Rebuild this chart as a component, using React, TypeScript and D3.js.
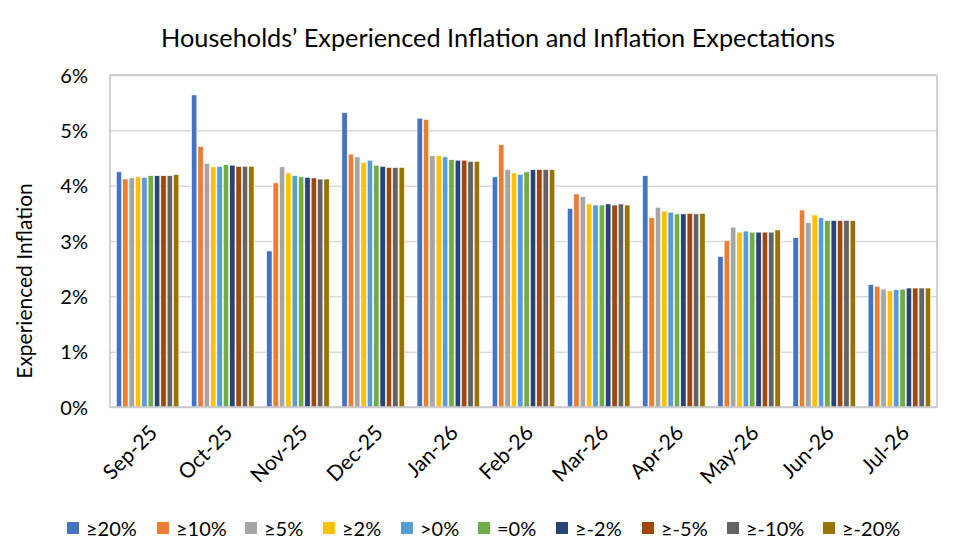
import { useRef, useEffect } from "react";
import * as d3 from "d3";

const months: string[] = ["Sep-25", "Oct-25", "Nov-25", "Dec-25", "Jan-26", "Feb-26", "Mar-26", "Apr-26", "May-26", "Jun-26", "Jul-26"];
const seriesNames: string[] = ["≥20%", "≥10%", "≥5%", "≥2%", ">0%", "=0%", "≥-2%", "≥-5%", "≥-10%", "≥-20%"];
const seriesColors: string[] = ["#4472C4", "#ED7D31", "#A5A5A5", "#FFC000", "#5B9BD5", "#70AD47", "#264478", "#9E480E", "#636363", "#997300"];

// one row per month, one value (%) per series
const sep25: number[] = [4.25, 4.12, 4.14, 4.16, 4.15, 4.18, 4.18, 4.18, 4.18, 4.20];
const oct25: number[] = [5.64, 4.71, 4.40, 4.34, 4.35, 4.38, 4.37, 4.35, 4.35, 4.35];
const nov25: number[] = [2.82, 4.05, 4.34, 4.23, 4.18, 4.16, 4.15, 4.14, 4.12, 4.12];
const dec25: number[] = [5.32, 4.57, 4.52, 4.42, 4.46, 4.37, 4.35, 4.33, 4.33, 4.33];
const jan26: number[] = [5.22, 5.20, 4.54, 4.54, 4.52, 4.47, 4.46, 4.46, 4.44, 4.44];
const feb26: number[] = [4.16, 4.74, 4.29, 4.23, 4.20, 4.25, 4.29, 4.29, 4.29, 4.29];
const mar26: number[] = [3.59, 3.85, 3.80, 3.67, 3.65, 3.65, 3.67, 3.65, 3.67, 3.65];
const apr26: number[] = [4.18, 3.42, 3.61, 3.54, 3.52, 3.49, 3.49, 3.50, 3.49, 3.50];
const may26: number[] = [2.72, 3.01, 3.25, 3.16, 3.18, 3.16, 3.16, 3.16, 3.16, 3.20];
const jun26: number[] = [3.06, 3.56, 3.33, 3.47, 3.42, 3.37, 3.37, 3.37, 3.37, 3.37];
const jul26: number[] = [2.21, 2.18, 2.13, 2.10, 2.12, 2.13, 2.15, 2.15, 2.15, 2.15];

const values: number[][] = [sep25, oct25, nov25, dec25, jan26, feb26, mar26, apr26, may26, jun26, jul26];
const yTicks: number[] = [0, 1, 2, 3, 4, 5, 6];

const width = 959;
const height = 559;
const font = "Lato, 'Open Sans', sans-serif";

export default function App() {
    const svgRef = useRef<SVGSVGElement | null>(null);

    useEffect(() => {
        if (!svgRef.current) return;
        const margin = { top: 75, right: 22, bottom: 152, left: 110 };
        const plotW = width - margin.left - margin.right;
        const plotH = height - margin.top - margin.bottom;

        const svg = d3.select(svgRef.current);
        svg.selectAll("*").remove();

        const x0 = d3.scaleBand<string>().domain(months).range([0, plotW]).paddingInner(0.155).paddingOuter(0.0775);
        const x1 = d3.scaleBand<string>().domain(seriesNames).range([0, x0.bandwidth()]);
        const y = d3.scaleLinear().domain([0, 6]).range([plotH, 0]);

        // title
        svg.append("text")
            .attr("x", 498)
            .attr("y", 47)
            .attr("text-anchor", "middle")
            .style("font-family", font)
            .style("font-size", "25.3px")
            .style("fill", "#000")
            .text("Households’ Experienced Inflation and Inflation Expectations");

        const g = svg.append("g").attr("transform", `translate(${margin.left},${margin.top})`);

        // gridlines
        const yAxis = d3.axisLeft(y).tickValues(yTicks).tickSize(-plotW).tickFormat((d: any) => `${d}%`);
        const ya = g.append("g").attr("class", "y-axis").call(yAxis);
        ya.select(".domain").remove();
        ya.selectAll(".tick line").attr("stroke", "#d9d9d9").attr("stroke-width", 1.5);
        ya.selectAll(".tick text")
            .attr("x", -22)
            .attr("dy", "0.36em")
            .style("font-family", font)
            .style("font-size", "20px")
            .style("fill", "#000");

        // bars
        g.append("g")
            .selectAll("g")
            .data(values)
            .join("g")
            .attr("transform", (_d, i) => `translate(${x0(months[i])},0)`)
            .selectAll("rect")
            .data((d) => d)
            .join("rect")
            .attr("x", (_d, j) => (x1(seriesNames[j]) as number) + 0.5)
            .attr("width", x1.bandwidth() - 1)
            .attr("y", (d) => y(d))
            .attr("height", (d) => plotH - y(d))
            .attr("fill", (_d, j) => seriesColors[j])
            .attr("stroke", "#fff")
            .attr("stroke-width", 0.6);

        // plot border
        g.append("rect")
            .attr("width", plotW)
            .attr("height", plotH)
            .attr("fill", "none")
            .attr("stroke", "#c4c4c4")
            .attr("stroke-width", 1.5);

        // x labels
        const xAxis = d3.axisBottom(x0).tickSize(0);
        const xa = g.append("g").attr("transform", `translate(0,${plotH})`).call(xAxis);
        xa.select(".domain").remove();
        xa.selectAll(".tick text")
            .attr("text-anchor", "end")
            .attr("dy", "0")
            .attr("transform", "translate(9,25) rotate(-45)")
            .style("font-family", font)
            .style("font-size", "21px")
            .style("fill", "#000");

        // y title
        svg.append("text")
            .attr("transform", `translate(32,${margin.top + plotH / 2 + 40}) rotate(-90)`)
            .attr("text-anchor", "middle")
            .style("font-family", font)
            .style("font-size", "21px")
            .style("fill", "#000")
            .text("Experienced Inflation");

        // legend
        const legendX: number[] = [67, 157, 245, 323, 401, 478, 556, 642, 727, 823];
        const lg = svg.append("g").attr("transform", "translate(0,528)");
        const item = lg.selectAll("g")
            .data(seriesNames)
            .join("g")
            .attr("transform", (_d, i) => `translate(${legendX[i]},0)`);
        item.append("rect")
            .attr("x", 0)
            .attr("y", -6)
            .attr("width", 12)
            .attr("height", 12)
            .attr("fill", (_d, i) => seriesColors[i]);
        item.append("text")
            .attr("x", 19)
            .attr("y", 7.5)
            .style("font-family", font)
            .style("font-size", "20px")
            .style("fill", "#000")
            .text((d) => d);
    }, []);

    return (
        <svg ref={svgRef} width={width} height={height} style={{ display: "block", margin: "-8px", background: "#fff" }} />
    );
}
